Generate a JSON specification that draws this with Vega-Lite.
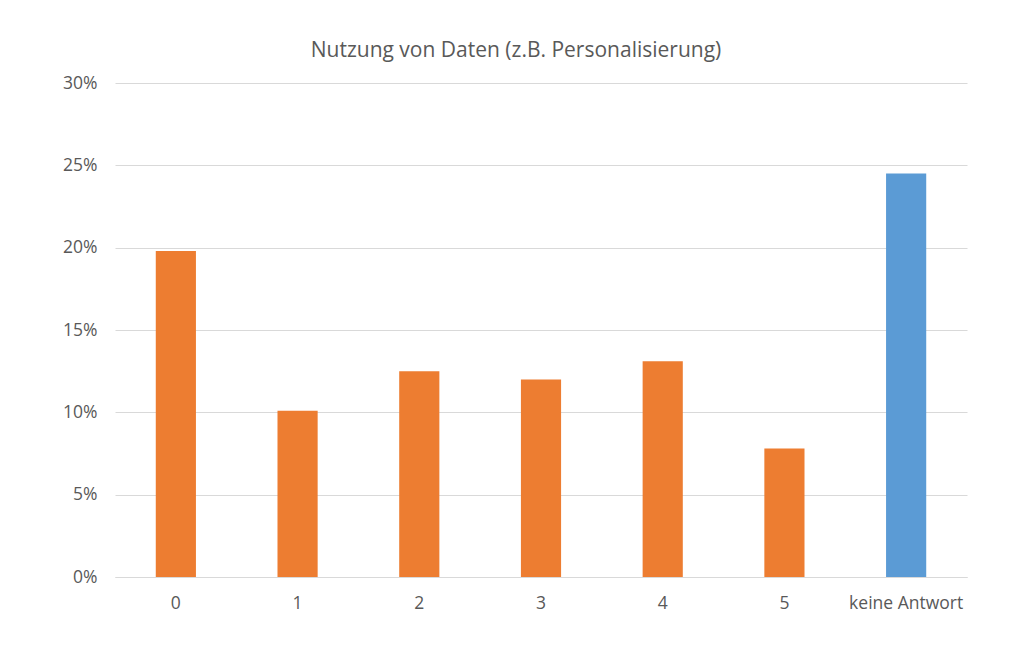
{
  "$schema": "https://vega.github.io/schema/vega-lite/v6.json",
  "autosize": "none",
  "width": 852,
  "height": 494,
  "padding": {"left": 115, "top": 83, "right": 57, "bottom": 73},
  "background": "white",
  "config": {"view": {"stroke": null}, "font": "Open Sans"},
  "title": {
    "text": "Nutzung von Daten (z.B. Personalisierung)",
    "anchor": "middle",
    "frame": "group",
    "dx": -25,
    "offset": 13,
    "fontSize": 21,
    "fontWeight": "normal",
    "color": "#595959",
    "font": "Open Sans"
  },
  "data": {
    "values": [
      {"kat": "0", "anteil": 0.198, "gruppe": "a"},
      {"kat": "1", "anteil": 0.101, "gruppe": "a"},
      {"kat": "2", "anteil": 0.125, "gruppe": "a"},
      {"kat": "3", "anteil": 0.12, "gruppe": "a"},
      {"kat": "4", "anteil": 0.131, "gruppe": "a"},
      {"kat": "5", "anteil": 0.078, "gruppe": "a"},
      {"kat": "keine Antwort", "anteil": 0.245, "gruppe": "b"}
    ]
  },
  "mark": {"type": "bar"},
  "encoding": {
    "x": {
      "field": "kat",
      "type": "nominal",
      "sort": null,
      "scale": {"paddingInner": 0.67, "paddingOuter": 0.335},
      "axis": {
        "title": null,
        "labelAngle": 0,
        "labelFontSize": 17.5,
        "labelColor": "#595959",
        "labelPadding": 17,
        "ticks": false,
        "domain": true,
        "domainColor": "#D9D9D9",
        "domainWidth": 1
      }
    },
    "y": {
      "field": "anteil",
      "type": "quantitative",
      "scale": {"domain": [0, 0.3], "nice": false},
      "axis": {
        "title": null,
        "format": ".0%",
        "values": [0, 0.05, 0.1, 0.15, 0.2, 0.25, 0.3],
        "labelFontSize": 17.5,
        "labelColor": "#595959",
        "labelPadding": 18,
        "ticks": false,
        "domain": false,
        "gridColor": "#D9D9D9",
        "gridWidth": 1
      }
    },
    "color": {
      "field": "gruppe",
      "type": "nominal",
      "scale": {"domain": ["a", "b"], "range": ["#ED7D31", "#5B9BD5"]},
      "legend": null
    }
  }
}
